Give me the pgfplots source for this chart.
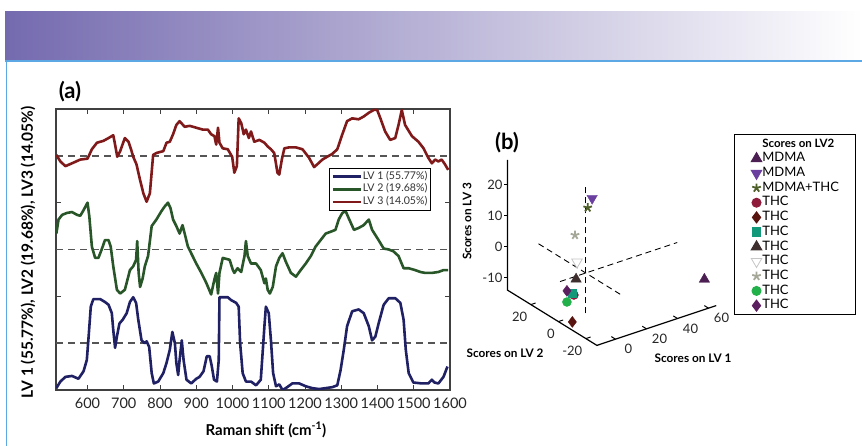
\documentclass[border=0pt]{standalone}
\usepackage{pgfplots}
\pgfplotsset{compat=1.18}
\usepackage{pgfplotstable}
\usepackage{fontspec}
\setmainfont{Lato}
\newcommand{\fs}[1]{\fontsize{#1}{#1}\selectfont}

\definecolor{lvone}{RGB}{32,32,100}
\definecolor{lvtwo}{RGB}{40,86,40}
\definecolor{lvthree}{RGB}{128,26,26}
\definecolor{dashgray}{RGB}{85,85,85}
\definecolor{band}{RGB}{116,106,175}
\definecolor{rulecol}{RGB}{92,168,228}
\definecolor{mdmaA}{RGB}{75,31,82}
\definecolor{mdmaB}{RGB}{106,63,160}
\definecolor{mixC}{RGB}{78,95,42}
\definecolor{thcA}{RGB}{142,27,58}
\definecolor{thcB}{RGB}{90,20,16}
\definecolor{thcC}{RGB}{17,153,122}
\definecolor{thcD}{RGB}{62,46,46}
\definecolor{thcF}{RGB}{165,168,153}
\definecolor{thcG}{RGB}{34,176,74}
\definecolor{thcH}{RGB}{91,30,94}

% loadings, each scaled into its own band (LV1 0-1, LV2 1-2, LV3 2-3)
\pgfplotstableread{
x y
514 0.02
525 0.09
539 0.14
557 0.15
575 0.12
589 0.20
598 0.32
603 0.57
609 0.89
616 0.97
635 0.97
648 0.94
658 0.91
667 0.82
671 0.64
676 0.45
681 0.57
688 0.71
697 0.75
708 0.82
717 0.94
726 0.99
734 0.93
740 0.75
749 0.53
758 0.50
763 0.52
770 0.46
777 0.18
783 0.07
795 0.09
809 0.18
818 0.29
827 0.43
834 0.62
841 0.50
845 0.29
850 0.16
854 0.32
860 0.53
865 0.32
873 0.11
886 0.07
900 0.12
909 0.14
920 0.20
929 0.36
937 0.36
943 0.25
949 0.11
957 0.09
962 0.32
964 0.99
973 0.99
987 0.99
996 0.96
1010 0.93
1017 0.89
1021 0.50
1028 0.18
1037 0.09
1051 0.09
1065 0.05
1078 0.11
1088 0.68
1092 0.89
1100 0.82
1106 0.53
1112 0.18
1120 0.04
1129 0.06
1138 0.00
1147 0.02
1165 0.07
1184 0.07
1202 0.04
1220 0.02
1239 0.01
1257 0.02
1275 0.03
1289 0.05
1298 0.21
1307 0.43
1316 0.68
1330 0.84
1348 0.86
1362 0.82
1376 0.68
1385 0.53
1394 0.57
1403 0.71
1417 0.91
1431 0.98
1449 0.98
1463 0.93
1472 0.75
1478 0.43
1486 0.18
1499 0.08
1522 0.07
1540 0.07
1550 0.11
1557 0.08
1568 0.07
1582 0.14
1593 0.25
}\lvonetab

\pgfplotstableread{
x y
514 1.67
520 1.82
530 1.87
543 1.89
557 1.90
571 1.87
580 1.86
589 1.92
600 2.00
605 1.85
612 1.53
621 1.41
630 1.41
639 1.50
648 1.60
658 1.60
664 1.53
671 1.32
681 1.07
690 1.03
703 1.07
717 1.28
726 1.32
734 1.39
737 1.59
741 1.25
745 1.10
752 1.19
758 1.32
767 1.43
777 1.75
790 1.82
804 1.91
813 1.96
822 2.00
829 1.94
836 1.82
845 1.75
854 1.67
862 1.76
868 1.67
877 1.53
886 1.46
900 1.35
914 1.25
928 1.14
941 1.02
950 1.18
955 1.25
960 1.03
964 1.25
973 1.41
992 1.39
1001 1.28
1005 1.25
1014 1.30
1024 1.26
1033 1.43
1037 1.59
1042 1.43
1051 1.35
1065 1.35
1078 1.28
1088 1.14
1092 1.19
1097 1.07
1103 1.03
1111 1.10
1120 1.32
1129 1.41
1138 1.46
1147 1.37
1161 1.25
1175 1.21
1188 1.28
1202 1.35
1216 1.43
1229 1.53
1243 1.60
1257 1.67
1271 1.69
1284 1.71
1293 1.82
1303 1.89
1312 1.91
1321 1.83
1335 1.71
1348 1.73
1362 1.76
1376 1.82
1385 1.71
1403 1.60
1417 1.51
1431 1.50
1444 1.48
1458 1.43
1472 1.30
1486 1.30
1504 1.28
1518 1.26
1531 1.25
1550 1.25
1568 1.26
1582 1.28
1595 1.28
}\lvtwotab

\pgfplotstableread{
x y
514 2.51
525 2.44
539 2.39
557 2.42
580 2.46
600 2.47
612 2.57
626 2.64
644 2.66
658 2.69
671 2.72
676 2.62
682 2.49
690 2.55
703 2.69
713 2.65
720 2.57
726 2.49
735 2.41
745 2.24
754 2.10
763 2.01
772 2.10
781 2.51
790 2.53
799 2.54
809 2.55
818 2.64
827 2.65
836 2.73
845 2.83
854 2.87
868 2.81
882 2.82
900 2.80
918 2.78
932 2.78
941 2.73
950 2.71
955 2.62
960 2.80
964 2.64
973 2.58
987 2.57
999 2.49
1005 2.32
1012 2.39
1017 2.90
1024 2.85
1031 2.73
1037 2.78
1045 2.69
1051 2.76
1060 2.65
1074 2.67
1088 2.64
1097 2.60
1106 2.57
1115 2.53
1124 2.32
1129 2.30
1136 2.46
1143 2.58
1156 2.59
1175 2.59
1193 2.57
1211 2.48
1225 2.38
1234 2.41
1248 2.46
1261 2.49
1275 2.52
1289 2.57
1303 2.73
1316 2.87
1330 2.90
1348 2.89
1362 2.92
1376 2.96
1390 2.99
1399 2.99
1408 2.90
1421 2.76
1435 2.67
1449 2.69
1458 2.83
1467 2.99
1476 2.83
1495 2.71
1513 2.65
1527 2.58
1540 2.48
1550 2.42
1559 2.46
1568 2.44
1577 2.46
1586 2.41
1595 2.35
}\lvthreetab

\begin{document}
\begin{tikzpicture}
\useasboundingbox (0,0) rectangle (862pt,446pt);
\fill[white] (0,0) rectangle (862pt,446pt);
\shade[left color=band, right color=white] (5pt,385pt) rectangle (862pt,434pt);
\draw[rulecol, line width=1.5pt] (5pt,385pt) -- (862pt,385pt);
\draw[rulecol, line width=1.5pt] (6.5pt,385pt) -- (6.5pt,0pt);

% ---- (a) loadings ----
\begin{axis}[
  at={(56pt,56pt)}, anchor=south west, scale only axis,
  width=394pt, height=281pt,
  xmin=513, xmax=1600, ymin=0, ymax=3,
  xtick={600,700,...,1600}, ytick={1,2}, yticklabels={},
  tick align=inside, major tick length=5pt,
  axis line style={draw=black!75, line width=1.1pt},
  every tick/.style={black!75, line width=0.9pt},
  /pgf/number format/assume math mode=true,
  /pgf/number format/1000 sep={},
  xticklabel style={font=\fs{14.5}, yshift=-4pt, text=black!85},
  xlabel={\bfseries Raman shift (cm\textsuperscript{-1})},
  xlabel style={font=\fs{15}, at={(axis description cs:0.533,-0.142)}, anchor=center},
  ylabel={\bfseries LV 1 (55.77\%), LV2 (19.68\%), LV3 (14.05\%)},
  ylabel style={font=\fs{15.5}, at={(axis description cs:-0.071,0.49)}, anchor=center},
  legend style={at={(0.693,0.79)}, anchor=north west, draw=black, line width=0.9pt,
    font=\fs{10.6}, text=black!80, row sep=1.2pt, inner xsep=2pt, inner ysep=2.5pt,
    nodes={inner sep=0.8pt, text height=7.6pt, text depth=2.2pt}},
  legend cell align=left,
  legend image code/.code={\draw[#1] (0pt,0pt) -- (28pt,0pt);},
]
\addplot[forget plot, dashgray, line width=1.8pt, dash pattern=on 7pt off 5pt] coordinates {(513,0.5) (1600,0.5)};
\addplot[forget plot, dashgray, line width=1.8pt, dash pattern=on 7pt off 5pt] coordinates {(513,1.5) (1600,1.5)};
\addplot[forget plot, dashgray, line width=1.8pt, dash pattern=on 7pt off 5pt] coordinates {(513,2.5) (1600,2.5)};
\addplot[lvone, line width=2.6pt, line join=round] table {\lvonetab};
\addlegendentry{LV 1 (55.77\%)}
\addplot[lvtwo, line width=2.6pt, line join=round] table {\lvtwotab};
\addlegendentry{LV 2 (19.68\%)}
\addplot[lvthree, line width=2.6pt, line join=round] table {\lvthreetab};
\addlegendentry{LV 3 (14.05\%)}
\end{axis}

% ---- (b) scores ----
\begin{axis}[
  at={(577pt,174pt)}, anchor=origin,
  x={(1.55pt,0.517pt)}, y={(-1.375pt,0.85pt)}, z={(0pt,3.1pt)},
  xmin=-12, xmax=65, ymin=-28, ymax=37, zmin=-14, zmax=28,
  hide axis, clip=false,
  legend style={at={(axis cs:101.3,0,27.6)}, anchor=north west, draw=black, line width=1pt,
    font=\fs{13}, row sep=2pt, column sep=0pt, inner xsep=16pt, inner ysep=3pt,
    nodes={inner sep=0.6pt, text height=9pt, text depth=2.5pt}},
  legend cell align=left,
  legend image code/.code={\path[draw=none] (-6pt,0pt) -- (0pt,0pt);
    \draw[mark repeat=2,mark phase=2,#1] plot coordinates {(-6pt,0pt) (0pt,0pt) (6pt,0pt)};},
]
\addplot3[forget plot, black, line width=1.2pt] coordinates {(65,-28,-14) (-12,-28,-14) (-12,37,-14) (-12,37,28)};
\addplot3[forget plot, black, line width=0.9pt, dash pattern=on 6pt off 4pt] coordinates {(3,-3,-13) (3,-3,27.7)};
\addplot3[forget plot, black, line width=0.9pt, dash pattern=on 6pt off 4pt] coordinates {(3,-28,0) (3,33,0)};
\addplot3[forget plot, black, line width=0.9pt, dash pattern=on 6pt off 4pt] coordinates {(-13.6,-3,0) (62,-3,0)};

\draw[line width=1pt] (axis cs:-12,37,20) -- ++(-4pt,0pt);
\draw[line width=1pt] (axis cs:-12,37,10) -- ++(-4pt,0pt);
\draw[line width=1pt] (axis cs:-12,37,0) -- ++(-4pt,0pt);
\draw[line width=1pt] (axis cs:-12,37,-10) -- ++(-4pt,0pt);
\draw[line width=1pt] (axis cs:-12,20,-14) -- ++(4.7pt,1.6pt);
\draw[line width=1pt] (axis cs:-12,0,-14) -- ++(4.7pt,1.6pt);
\draw[line width=1pt] (axis cs:-12,-20,-14) -- ++(4.7pt,1.6pt);
\draw[line width=1pt] (axis cs:0,-28,-14) -- ++(-4.2pt,2.6pt);
\draw[line width=1pt] (axis cs:20,-28,-14) -- ++(-4.2pt,2.6pt);
\draw[line width=1pt] (axis cs:40,-28,-14) -- ++(-4.2pt,2.6pt);
\draw[line width=1pt] (axis cs:60,-28,-14) -- ++(-4.2pt,2.6pt);
\begin{scope}[every node/.style={font=\fs{13}, inner sep=0pt, text=black!85}]
\node[anchor=east, xshift=-5pt] at (axis cs:-12,37,20) {20};
\node[anchor=east, xshift=-5pt] at (axis cs:-12,37,10) {10};
\node[anchor=east, xshift=-5pt] at (axis cs:-12,37,0) {0};
\node[anchor=east, xshift=-5pt] at (axis cs:-12,37,-10) {-10};
\node[anchor=east, xshift=-3.5pt, yshift=-12.4pt] at (axis cs:-12,20,-14) {20};
\node[anchor=east, xshift=-3.5pt, yshift=-12.4pt] at (axis cs:-12,0,-14) {0};
\node[anchor=east, xshift=-3.5pt, yshift=-12.4pt] at (axis cs:-12,-20,-14) {-20};
\node[xshift=13pt, yshift=-10pt] at (axis cs:0,-28,-14) {0};
\node[xshift=13pt, yshift=-10pt] at (axis cs:20,-28,-14) {20};
\node[xshift=13pt, yshift=-10pt] at (axis cs:40,-28,-14) {40};
\node[xshift=13pt, yshift=-10pt] at (axis cs:60,-28,-14) {60};
\end{scope}

\addlegendimage{empty legend}
\addlegendentry{\bfseries\fs{11.5}Scores on LV2\hspace{2pt}}
\addplot3[only marks, mark=triangle*, mark size=6pt, mark options={draw=mdmaA, fill=mdmaA}] coordinates {(60,-25,-5.5)};
\addlegendentry{MDMA}
\addplot3[only marks, mark=triangle*, mark size=6pt, mark options={draw=mdmaB, fill=mdmaB, rotate=180}] coordinates {(8,-2,23)};
\addlegendentry{MDMA}
\addplot3[only marks, mark=star, mark size=4.5pt, mark options={draw=mixC, line width=1.8pt}] coordinates {(6,-1,20)};
\addlegendentry{MDMA+THC}
\addplot3[only marks, mark=*, mark size=4.5pt, mark options={draw=thcA, fill=thcA}] coordinates {(-2,0,-7.1)};
\addlegendentry{THC}
\addplot3[only marks, mark=diamond*, mark size=5.5pt, mark options={draw=thcB, fill=thcB}] coordinates {(-3,0,-15.6)};
\addlegendentry{THC}
\addplot3[only marks, mark=square*, mark size=4.3pt, mark options={draw=thcC, fill=thcC}] coordinates {(-3,0,-6.3)};
\addlegendentry{THC}
\addplot3[only marks, mark=triangle*, mark size=6pt, mark options={draw=thcD, fill=thcD}] coordinates {(-0.6,0,-2.2)};
\addlegendentry{THC}
\addplot3[only marks, mark=triangle*, mark size=6pt, mark options={draw=gray!45, fill=white, line width=0.8pt, rotate=180}] coordinates {(0,0,3.2)};
\addlegendentry{THC}
\addplot3[only marks, mark=star, mark size=4.5pt, mark options={draw=thcF, line width=1.8pt}] coordinates {(-1.3,0,12.1)};
\addlegendentry{THC}
\addplot3[only marks, mark=*, mark size=4.5pt, mark options={draw=thcG, fill=thcG}] coordinates {(-6.5,0,-8.6)};
\addlegendentry{THC}
\addplot3[only marks, mark=diamond*, mark size=5.5pt, mark options={draw=thcH, fill=thcH}] coordinates {(-6.5,0,-5.0)};
\addlegendentry{THC}
\end{axis}

\node[font=\bfseries\fs{22}] at (70pt,354pt) {(a)};
\node[font=\bfseries\fs{22}] at (507pt,303pt) {(b)};
\node[font=\bfseries\fs{11.8}, rotate=90] at (467pt,224.5pt) {Scores on LV 3};
\node[font=\bfseries\fs{11.8}] at (505pt,93pt) {Scores on LV 2};
\node[font=\bfseries\fs{11.8}] at (693pt,88pt) {Scores on LV 1};
\end{tikzpicture}
\end{document}
